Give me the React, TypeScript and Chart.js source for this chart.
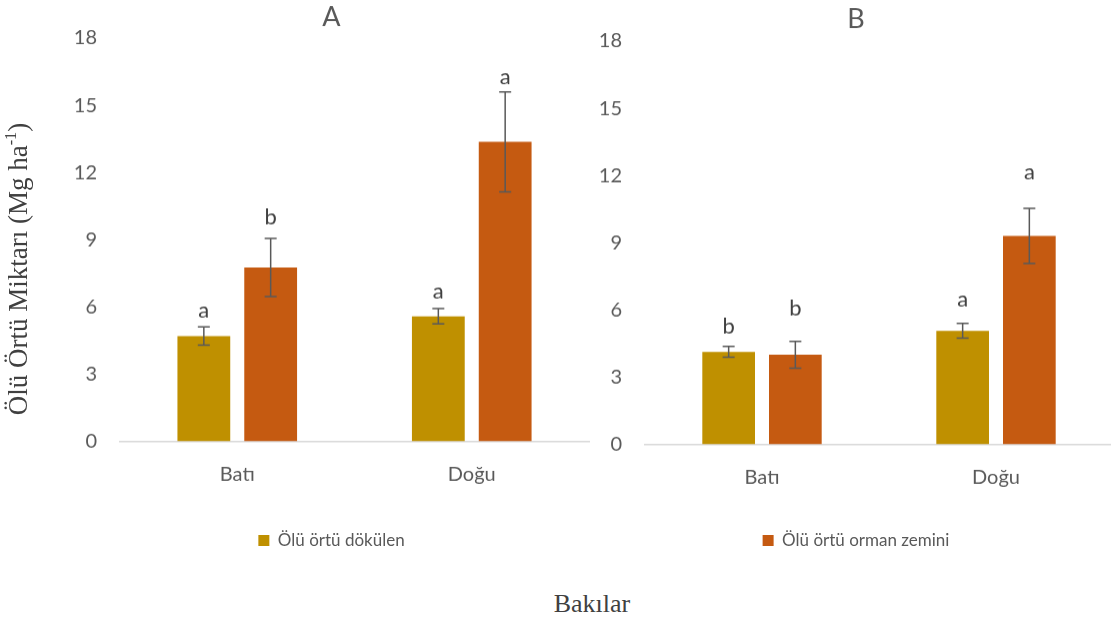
import React, { useEffect, useRef } from 'react';
import { Chart, registerables } from 'chart.js';

Chart.register(...registerables);

// ---- Data ----
const categories = ['Batı', 'Doğu'];
const seriesNames = ['Ölü örtü dökülen', 'Ölü örtü orman zemini'];
const seriesColors = ['#BF9000', '#C55A11'];
const yTickValues = [0, 3, 6, 9, 12, 15, 18];

// Panel A
const aDokulen = [4.7, 5.58];
const aDokulenErr = [0.41, 0.34];
const aOrman = [7.76, 13.37];
const aOrmanErr = [1.3, 2.23];
const aDokulenLetters = ['a', 'a'];
const aOrmanLetters = ['b', 'a'];
const aDokulenLetterY = [5.85, 6.67];
const aOrmanLetterY = [10.0, 16.24];

// Panel B
const bDokulen = [4.13, 5.07];
const bDokulenErr = [0.24, 0.33];
const bOrman = [4.0, 9.3];
const bOrmanErr = [0.6, 1.23];
const bDokulenLetters = ['b', 'a'];
const bOrmanLetters = ['b', 'a'];
const bDokulenLetterY = [5.26, 6.46];
const bOrmanLetterY = [6.05, 12.13];

const TEXT = '#595959';
const FONT = 'Lato, "Open Sans", sans-serif';

const errorLetterPlugin = {
  id: 'errorLetters',
  afterDatasetsDraw(chart: any, _args: any, opts: any) {
    const ctx = chart.ctx;
    const ys = chart.scales.y;
    chart.data.datasets.forEach((ds: any, di: number) => {
      const meta = chart.getDatasetMeta(di);
      meta.data.forEach((bar: any, i: number) => {
        const v = ds.data[i];
        const e = opts.errors[di][i];
        const x = bar.x;
        const yt = ys.getPixelForValue(v + e);
        const yb = ys.getPixelForValue(v - e);
        ctx.save();
        ctx.strokeStyle = '#595959';
        ctx.lineWidth = 1.5;
        ctx.beginPath();
        ctx.moveTo(x, yt);
        ctx.lineTo(x, yb);
        ctx.moveTo(x - 6, yt);
        ctx.lineTo(x + 6, yt);
        ctx.moveTo(x - 6, yb);
        ctx.lineTo(x + 6, yb);
        ctx.stroke();
        ctx.fillStyle = '#404040';
        ctx.font = `22px ${FONT}`;
        ctx.textAlign = 'center';
        ctx.textBaseline = 'middle';
        ctx.fillText(opts.letters[di][i], x, ys.getPixelForValue(opts.letterY[di][i]));
        ctx.restore();
      });
    });
  },
};

type PanelProps = {
  title: string;
  series: number[][];
  errors: number[][];
  letters: string[][];
  letterY: number[][];
  legendIndex: number;
  left: number;
  top: number;
  width: number;
  height: number;
  padLeft: number;
  padRight: number;
  yWidth: number;
  legendPad: number;
  titlePadTop: number;
  titlePadBottom: number;
};

function Panel(p: PanelProps) {
  const ref = useRef<HTMLCanvasElement>(null);
  useEffect(() => {
    if (!ref.current) return;
    const chart = new Chart(ref.current, {
      type: 'bar',
      data: {
        labels: categories,
        datasets: p.series.map((d, i) => ({
          label: seriesNames[i],
          data: d,
          backgroundColor: seriesColors[i],
          borderWidth: 0,
          categoryPercentage: 0.57,
          barPercentage: 0.79,
        })),
      },
      options: {
        responsive: false,
        animation: false,
        layout: { padding: { left: p.padLeft, right: p.padRight, top: 0, bottom: 0 } },
        plugins: {
          title: {
            display: true,
            text: p.title,
            color: TEXT,
            font: { family: FONT, size: 27, weight: 'normal' },
            padding: { top: p.titlePadTop, bottom: p.titlePadBottom },
          },
          legend: {
            display: true,
            position: 'bottom',
            labels: {
              color: TEXT,
              font: { family: FONT, size: 17 },
              boxWidth: 11,
              boxHeight: 11,
              padding: p.legendPad,
              filter: (item: any) => item.datasetIndex === p.legendIndex,
            },
          },
          tooltip: { enabled: false },
          errorLetters: { errors: p.errors, letters: p.letters, letterY: p.letterY },
        } as any,
        scales: {
          x: {
            grid: { display: false, drawTicks: false },
            border: { display: true, color: '#D9D9D9', width: 1.5 },
            ticks: { color: TEXT, font: { family: FONT, size: 20 }, padding: 21 },
          },
          y: {
            min: 0,
            max: 18,
            grid: { display: false, drawTicks: false },
            border: { display: false },
            ticks: { color: TEXT, font: { family: FONT, size: 20 }, padding: 23 },
            afterBuildTicks: (s: any) => {
              s.ticks = yTickValues.map((v) => ({ value: v }));
            },
            afterFit: (s: any) => {
              s.width = p.yWidth;
            },
          },
        },
      },
      plugins: [errorLetterPlugin],
    });
    return () => chart.destroy();
  }, []);
  return (
    <canvas
      ref={ref}
      width={p.width}
      height={p.height}
      style={{ position: 'absolute', left: p.left, top: p.top, width: p.width, height: p.height }}
    />
  );
}

export default function App() {
  return (
    <div
      style={{
        position: 'fixed',
        left: 0,
        top: 0,
        width: 1111,
        height: 622,
        overflow: 'hidden',
        background: '#fff',
      }}
    >
      <Panel
        title="A"
        series={[aDokulen, aOrman]}
        errors={[aDokulenErr, aOrmanErr]}
        letters={[aDokulenLetters, aOrmanLetters]}
        letterY={[aDokulenLetterY, aOrmanLetterY]}
        legendIndex={0}
        left={0}
        top={0}
        width={600}
        height={558.5}
        padLeft={74}
        padRight={11}
        yWidth={46}
        legendPad={24.5}
        titlePadTop={1}
        titlePadBottom={4.6}
      />
      <Panel
        title="B"
        series={[bDokulen, bOrman]}
        errors={[bDokulenErr, bOrmanErr]}
        letters={[bDokulenLetters, bOrmanLetters]}
        letterY={[bDokulenLetterY, bOrmanLetterY]}
        legendIndex={1}
        left={560}
        top={3}
        width={570}
        height={555.5}
        padLeft={39}
        padRight={17}
        yWidth={46}
        legendPad={21.5}
        titlePadTop={0}
        titlePadBottom={5.6}
      />
      <div
        style={{
          position: 'absolute',
          left: 18 - 220,
          top: 269 - 18,
          width: 440,
          height: 36,
          lineHeight: '36px',
          textAlign: 'center',
          transform: 'rotate(-90deg)',
          fontFamily: '"Liberation Serif", "Times New Roman", serif',
          fontSize: 27,
          color: '#404040',
          whiteSpace: 'nowrap',
        }}
      >
        Ölü Örtü Miktarı (Mg ha
        <span style={{ fontSize: '0.6em', position: 'relative', top: '-0.7em' }}>-1</span>)
      </div>
      <div
        style={{
          position: 'absolute',
          left: 592 - 100,
          top: 604 - 18,
          width: 200,
          height: 36,
          lineHeight: '36px',
          textAlign: 'center',
          fontFamily: '"Liberation Serif", "Times New Roman", serif',
          fontSize: 26,
          color: '#404040',
          whiteSpace: 'nowrap',
        }}
      >
        Bakılar
      </div>
    </div>
  );
}
